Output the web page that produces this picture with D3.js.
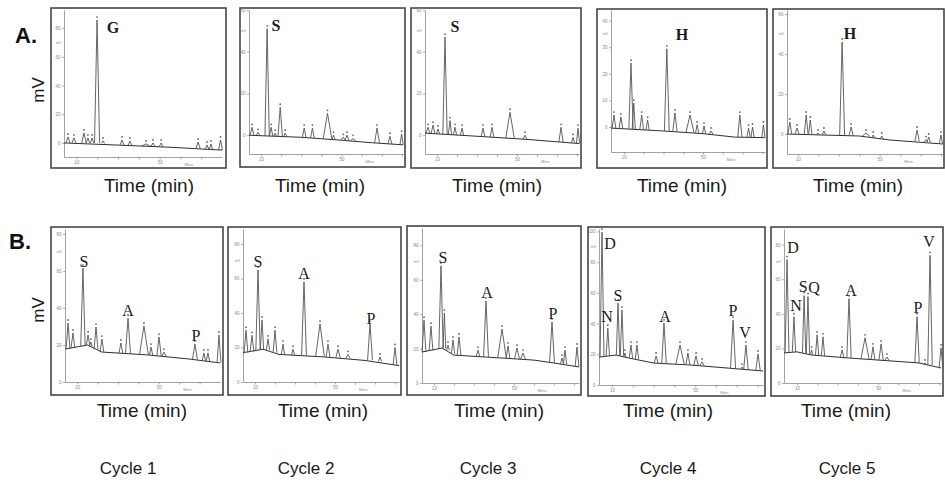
<!DOCTYPE html>
<html>
<head>
<meta charset="utf-8">
<script src="https://cdn.jsdelivr.net/npm/d3@7"></script>
<style>
  body { margin: 0; background: #fff; }
  svg { display: block; }
</style>
</head>
<body>
<svg id="fig" width="945" height="484"></svg>
<script>
// ---- data: time (min), signal (mV) ----
// peaks: [time, apex mV, foot mV, half width (min)]
// labels: [letter, time, mV]
const cycleNames = ["Cycle 1", "Cycle 2", "Cycle 3", "Cycle 4", "Cycle 5"];
const rowNames = ["A.", "B."];
const xLabelTicks = [10, 50];

const a1Baseline = [[4, 0], [30, -1.5], [55, -3], [80, -5]];
const a1Peaks = [[5.9, 4.2, 0, .7], [8.8, 3.5, 0, .7], [13.6, 7, 0, .8], [15.5, 3.5, 0, .6], [17.5, 3.5, 0, .6],
  [19.9, 85.7, 0, .9], [22.8, 1.4, -.3, .6], [31.9, 2.1, -1.5, .7], [35.7, 1.4, -1.8, .7], [43.4, -.7, -2.2, 1.6],
  [46.8, 0, -2.5, .7], [50.7, 0, -2.7, .7], [68.5, .7, -4, .8], [72.8, -1.4, -4.3, .6], [74.7, -.7, -4.5, .6], [79.3, 2.1, -5, .7]];
const a1Labels = [["G", 27.6, 80.8]];

const a2Baseline = [[4, 0], [30, -1], [50, -2.4], [65, -3.6], [80.5, -4.6]];
const a2Peaks = [[5.5, 3.8, 0, .7], [8.5, 1.4, 0, .6], [13, 51, -.3, .8], [15, 3.8, -.4, .6], [17, 1, -.5, .5],
  [19.5, 13.4, -.6, .8], [22, 1, -.7, .6], [31.4, 3.4, -1.1, .7], [35.5, 3.4, -1.4, .7], [43, 10.5, -1.9, 1.6],
  [46, 0, -2.1, .6], [50.8, -1, -2.4, .8], [52.7, 0, -2.6, .8], [55.7, -1.5, -2.9, 1], [67.6, 3.4, -3.7, .9],
  [74, -.5, -4.2, .7], [79.8, .5, -4.6, .6]];
const a2Labels = [["S", 17.4, 52.8]];

const a3Baseline = [[4, 1], [30, -.5], [55, -2], [81, -4]];
const a3Peaks = [[5.5, 3.8, 1, .7], [8, 4.8, .8, .7], [10.5, 3, .6, .6], [14, 47, .4, .8], [16.5, 7, .3, .6],
  [19, 3.8, .1, .6], [22.5, 3.4, 0, .6], [33, 3.4, -.7, .7], [37.5, 3.8, -1, .7], [46.5, 11, -1.7, 1.6],
  [54, 0, -2, .8], [72, 3.8, -3.3, .8], [78, -1, -3.7, .6], [80.5, 3.4, -4, .6]];
const a3Labels = [["S", 19, 52]];

const a4Baseline = [[3.5, -.4], [30, -1.5], [50, -2.5], [66, -3.8], [81.3, -4]];
const a4Peaks = [[5, 4.5, -.5, .7], [8.5, 3.8, -.6, .7], [13.6, 24, -.8, .8], [15, 9, -.9, .6], [19, 4.5, -1, .7],
  [22, 2.6, -1.1, .6], [31.7, 29.4, -1.5, .9], [35.8, 5.3, -1.7, .8], [43.4, 4.5, -2.1, 1.5], [47, .8, -2.3, .6],
  [50.5, .4, -2.5, .6], [54, -1.5, -2.8, .8], [68.6, 4.5, -3.8, .8], [73, -.4, -3.9, .6], [75, 0, -3.9, .6],
  [80.5, .8, -4, .6]];
const a4Labels = [["H", 39.4, 34.7]];

const a5Baseline = [[4.6, 0], [40, -1], [55, -3], [81, -5]];
const a5Peaks = [[6, 6, 0, .7], [9.5, 3, 0, .7], [14, 9.5, -.1, .7], [16, 7, -.2, .6], [19.8, .5, -.3, .6],
  [22.7, 1.5, -.4, .6], [31.6, 46, -.7, .9], [36, 3.5, -.9, .8], [43.3, .5, -1.3, 1.5], [46.8, -.5, -2, .6],
  [51, -1, -2.5, .6], [68.3, 2, -3.6, .8], [72.7, -2.8, -4, .6], [74, -1.5, -4.1, .6], [80, -.5, -4.9, .6]];
const a5Labels = [["H", 35.5, 50.5]];

const b1Baseline = [[4, 17.8], [15, 20], [22, 16.2], [45, 14.6], [65, 12.4], [80, 10.3]];
const b1Peaks = [[5.5, 31.9, 17.8, .7], [7.9, 26.5, 18.3, .7], [12.8, 61.6, 19.3, .8], [15.3, 25.4, 20, .6],
  [16.7, 21.6, 19.2, .5], [19.2, 29.7, 17.6, .7], [22.1, 23.2, 16.2, .7], [31.4, 21.1, 15.5, .7],
  [34.9, 34.6, 15.3, .9], [42.7, 30.3, 14.8, 1.6], [46.2, 18.9, 14.5, .6], [50.1, 24.3, 14, .8],
  [52.5, 16.2, 13.8, .8], [67.7, 20.5, 12.1, .9], [72.1, 15.7, 11.6, .6], [74.1, 15.7, 11.3, .6], [79.5, 25.4, 10.4, .7]];
const b1Labels = [["S", 13.3, 65.4], ["A", 34.9, 38.9], ["P", 68.2, 25.4]];

const b2Baseline = [[4, 17], [14, 19], [22, 16], [45, 14.5], [65, 12.5], [82, 9.5]];
const b2Peaks = [[5.5, 30, 17, .7], [8.5, 27, 17.5, .7], [11.5, 65, 18.5, .8], [13.5, 36, 19, .6], [16.5, 25, 18.5, .6],
  [20, 30, 17, .7], [24, 22, 16, .6], [29, 19, 15.5, .6], [34.5, 58, 15.3, .9], [42.5, 33.6, 14.8, 1.6],
  [46.5, 22, 14.5, .7], [51.5, 19, 14, .8], [56.5, 16, 13.6, .8], [67.5, 33.6, 12.6, .9], [72.5, 14.5, 12, .6],
  [80, 20, 10, .7]];
const b2Labels = [["S", 11.5, 69.6], ["A", 34.5, 63], ["P", 68, 37]];

const b3Baseline = [[4, 18], [14, 20.3], [20, 16.2], [44, 14.5], [60, 13.3], [70, 11.6], [82.5, 9.3]];
const b3Peaks = [[5, 36.5, 18, .7], [8.5, 33, 18.8, .7], [13.5, 68, 20, .8], [15.2, 40.6, 20, .5], [17, 22, 19, .5],
  [19.5, 25, 17, .6], [22.5, 26.7, 16, .7], [32, 19, 15.3, .7], [36, 47.6, 15.1, .9], [44, 31.3, 14.5, 1.6],
  [47, 21.5, 14.3, .7], [51.5, 20.3, 14, .9], [54.5, 17.4, 13.8, .9], [69, 35.4, 11.7, .9], [74, 14.5, 11, .6],
  [75.5, 19.1, 10.9, .6], [81.5, 20.9, 9.4, .7]];
const b3Labels = [["S", 14.5, 73], ["A", 36.5, 52.8], ["P", 69.5, 40.6]];

const b4Baseline = [[3.75, 18.2], [12, 19.5], [18, 17.6], [30, 14.3], [48, 13], [66, 11], [82.6, 9.1]];
const b4Peaks = [[5.2, 99.6, 18.2, .7], [8, 37, 18.8, .6], [12.9, 53.4, 19.5, .6], [14.8, 48.8, 19, .6],
  [16.2, 20.8, 18.2, .4], [19.1, 26, 17.5, .6], [22, 26, 16.9, .6], [31.2, 18.9, 14.2, .7], [35, 40.4, 14, .8],
  [42.7, 26, 13.6, 1.5], [46.5, 20.8, 13.3, .7], [50.4, 18.9, 12.8, .8], [53.3, 15, 12.5, .8], [68.2, 42.3, 10.9, .9],
  [72.5, 11.7, 10.4, .4], [74.4, 26, 10.2, .8], [80.2, 20.2, 9.3, .8]];
const b4Labels = [["D", 9, 92.4], ["N", 7.6, 44.3], ["S", 12.9, 58.6], ["A", 35.5, 44.9], ["P", 68.2, 48.2], ["V", 74, 34.5]];

const b5Baseline = [[3.6, 17.4], [10, 18], [17, 16.2], [35, 14.5], [70, 11.6], [80.9, 8.7]];
const b5Peaks = [[5.1, 71.3, 17.5, .7], [8.5, 38.3, 17.9, .6], [13.5, 50.5, 17.3, .6], [15.4, 49.9, 16.8, .6],
  [17.2, 19, 16.2, .4], [19.9, 27.8, 15.9, .6], [22.8, 26.7, 15.6, .6], [32.2, 19.1, 14.6, .7], [35.6, 48.7, 14.4, .8],
  [43.5, 26.1, 13.7, 1.5], [47.4, 20.9, 13.4, .7], [51.4, 22.6, 13, .8], [54.3, 15, 12.8, .8], [69.1, 38.3, 11.5, .8],
  [73, 11.6, 10.8, .4], [75.5, 73.7, 10.5, .8], [80.9, 20.3, 8.8, .7]];
const b5Labels = [["D", 8, 78.3], ["N", 9.5, 44.7], ["S", 13, 55.7], ["Q", 18.4, 55.1], ["A", 36.6, 53.4], ["P", 69.6, 43.5], ["V", 75, 81.8]];

// ---- layout of the ten panels: box and plot area in px, axis domains ----
const panels = [
  { row: 0, box: [51, 8, 226, 168], plot: [64, 10, 222, 157], t: [4, 80], mv: [-9.8, 92.7], yt: [0, 20, 40, 60, 80], base: a1Baseline, peaks: a1Peaks, labels: a1Labels, tx: 149 },
  { row: 0, box: [240, 8, 405, 167], plot: [249, 10, 403, 154], t: [4, 80.5], mv: [-9, 60], yt: [0, 20, 40, 60], base: a2Baseline, peaks: a2Peaks, labels: a2Labels, tx: 320 },
  { row: 0, box: [411, 8, 581, 168], plot: [425, 10, 579, 154], t: [4, 81], mv: [-9, 60], yt: [0, 20, 40, 60], base: a3Baseline, peaks: a3Peaks, labels: a3Labels, tx: 497 },
  { row: 0, box: [597, 9, 767, 168], plot: [611, 10, 765, 152], t: [3.5, 81.3], mv: [-9.4, 44], yt: [0, 10, 20, 30, 40], base: a4Baseline, peaks: a4Peaks, labels: a4Labels, tx: 682 },
  { row: 0, box: [773, 9, 944, 168], plot: [787, 10, 943, 154], t: [4.6, 81], mv: [-10, 62], yt: [0, 20, 40, 60], base: a5Baseline, peaks: a5Peaks, labels: a5Labels, tx: 858 },
  { row: 1, box: [51, 227, 223, 395], plot: [65, 229, 220, 382], t: [4, 80], mv: [0, 82.7], yt: [0, 20, 40, 60, 80], base: b1Baseline, peaks: b1Peaks, labels: b1Labels, tx: 142 },
  { row: 1, box: [228, 227, 401, 395], plot: [243, 229, 399, 382], t: [4, 82], mv: [0, 88.7], yt: [0, 20, 40, 60, 80], base: b2Baseline, peaks: b2Peaks, labels: b2Labels, tx: 323 },
  { row: 1, box: [407, 226, 581, 395], plot: [422, 228, 579, 383], t: [4, 82.5], mv: [0, 90], yt: [0, 20, 40, 60, 80], base: b3Baseline, peaks: b3Peaks, labels: b3Labels, tx: 499 },
  { row: 1, box: [588, 227, 765, 396], plot: [599, 229, 763, 385], t: [3.75, 82.6], mv: [0, 101.6], yt: [0, 20, 40, 60, 80, 100], base: b4Baseline, peaks: b4Peaks, labels: b4Labels, tx: 668 },
  { row: 1, box: [771, 227, 943, 396], plot: [784, 229, 941, 383], t: [3.6, 80.9], mv: [0, 89], yt: [0, 20, 40, 60, 80], base: b5Baseline, peaks: b5Peaks, labels: b5Labels, tx: 846 }
];

const svg = d3.select('#fig');
const sans = "'Liberation Sans', Arial, sans-serif";
const serif = "'Liberation Serif', 'Times New Roman', serif";
const peakSpread = 1.35; // widen the drawn peak feet a little

panels.forEach(p => {
  const g = svg.append('g');
  const x = d3.scaleLinear().domain(p.t).range([p.plot[0], p.plot[2]]);
  const y = d3.scaleLinear().domain(p.mv).range([p.plot[3], p.plot[1]]);

  // frame
  g.append('rect')
    .attr('x', p.box[0]).attr('y', p.box[1])
    .attr('width', p.box[2] - p.box[0]).attr('height', p.box[3] - p.box[1])
    .attr('fill', 'none').attr('stroke', '#3a3a3a').attr('stroke-width', 1.5);

  // tiny instrument axes
  const styleAxis = s => {
    s.select('.domain').attr('stroke', '#8a8a8a').attr('stroke-width', 0.8);
    s.selectAll('.tick line').attr('stroke', '#8a8a8a').attr('stroke-width', 0.7);
    s.selectAll('.tick text').attr('font-size', 4.5).attr('fill', '#8a8a8a').attr('font-family', sans);
  };
  g.append('g')
    .attr('transform', `translate(0,${p.plot[3]})`)
    .call(d3.axisBottom(x).tickValues(d3.range(10, p.t[1], 10)).tickSize(2.5).tickSizeOuter(0).tickPadding(1.5)
      .tickFormat(d => xLabelTicks.includes(d) ? d : ''))
    .call(styleAxis);
  g.append('g')
    .attr('transform', `translate(${p.plot[0]},0)`)
    .call(d3.axisLeft(y).tickValues(p.yt).tickSize(2).tickSizeOuter(0).tickPadding(1.5))
    .call(styleAxis);
  g.append('text')
    .attr('x', x(62)).attr('y', p.plot[3] + 9)
    .attr('font-size', 4).attr('fill', '#8a8a8a').attr('font-family', sans)
    .text('Mins');
  const n = p.yt.length;
  g.append('text')
    .attr('x', p.plot[0] - 3).attr('y', y((p.yt[n - 1] + p.yt[n - 2]) / 2))
    .attr('text-anchor', 'end').attr('dominant-baseline', 'central')
    .attr('font-size', 3.5).attr('fill', '#8a8a8a').attr('font-family', sans)
    .text('mV');

  // baseline of the trace
  const line = d3.line().x(d => x(d[0])).y(d => y(d[1]));
  g.append('path')
    .datum(p.base)
    .attr('d', line)
    .attr('fill', 'none').attr('stroke', '#2e2e2e').attr('stroke-width', 1);

  // peaks
  g.selectAll('path.peak')
    .data(p.peaks)
    .join('path')
    .attr('class', 'peak')
    .attr('d', d => line([[d[0] - d[3] * peakSpread, d[2]], [d[0], d[1]], [d[0] + d[3] * peakSpread, d[2]]]))
    .attr('fill', 'none').attr('stroke', '#555').attr('stroke-width', 0.9)
    .attr('stroke-linejoin', 'round');

  // little peak markers
  g.selectAll('circle.mark')
    .data(p.peaks)
    .join('circle')
    .attr('class', 'mark')
    .attr('cx', d => x(d[0]))
    .attr('cy', d => y(d[1]) - 3)
    .attr('r', 0.9)
    .attr('fill', '#666');

  // compound letters
  g.selectAll('text.lab')
    .data(p.labels)
    .join('text')
    .attr('class', 'lab')
    .attr('x', d => x(d[1])).attr('y', d => y(d[2]))
    .attr('text-anchor', 'middle').attr('dominant-baseline', 'central')
    .attr('font-family', serif).attr('font-size', 16)
    .attr('font-weight', p.row === 0 ? 'bold' : 'normal')
    .attr('fill', '#1a1a1a')
    .text(d => d[0]);

  // x title
  g.append('text')
    .attr('x', p.tx).attr('y', p.row === 0 ? 192 : 417)
    .attr('text-anchor', 'middle')
    .attr('font-family', sans).attr('font-size', 19).attr('fill', '#1a1a1a')
    .text('Time (min)');
});

// row letters and y titles
const rowY = [43, 249];
const mvY = [90, 310];
rowNames.forEach((r, i) => {
  svg.append('text')
    .attr('x', i === 0 ? 15 : 9).attr('y', rowY[i])
    .attr('font-family', sans).attr('font-size', 22).attr('font-weight', 'bold').attr('fill', '#111')
    .text(r);
  svg.append('text')
    .attr('transform', `translate(44,${mvY[i]}) rotate(-90)`)
    .attr('text-anchor', 'middle')
    .attr('font-family', sans).attr('font-size', 17).attr('fill', '#1a1a1a')
    .text('mV');
});

// cycle captions
const cycleX = [128, 306, 488, 668, 847];
svg.selectAll('text.cycle')
  .data(cycleNames)
  .join('text')
  .attr('class', 'cycle')
  .attr('x', (d, i) => cycleX[i]).attr('y', 474)
  .attr('text-anchor', 'middle')
  .attr('font-family', sans).attr('font-size', 17).attr('fill', '#1a1a1a')
  .text(d => d);
</script>
</body>
</html>
